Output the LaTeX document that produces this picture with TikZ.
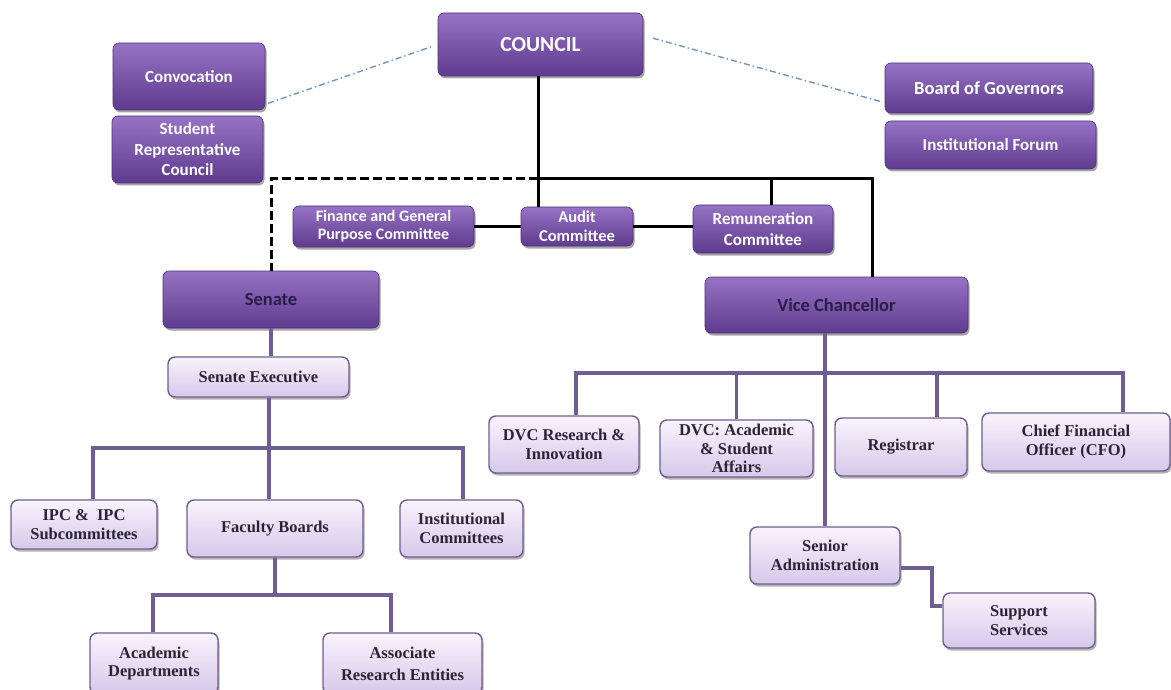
\documentclass[tikz,border=0pt]{standalone}
\usepackage{fontspec}
\usetikzlibrary{shadows,calc}
\newfontfamily\sansf{Carlito}
\newfontfamily\serf{Liberation Serif}
\definecolor{topT}{HTML}{9673C4}
\definecolor{topM}{HTML}{7A53AE}
\definecolor{topB}{HTML}{5E3B8E}
\definecolor{lowT}{HTML}{F8F4FC}
\definecolor{lowB}{HTML}{D6C8EA}
\definecolor{lowD}{HTML}{6F5E8F}
\definecolor{lowTxt}{HTML}{2A2535}
\definecolor{darkTxt}{HTML}{2A1D47}
\definecolor{plLine}{HTML}{6E5E92}
\definecolor{ddLine}{HTML}{7096C0}
\newcommand\bx[7]{\node[#6, minimum width={#4-#2}, minimum height={#5-#3}] (#1) at ({(#2+#4)/2},{(#3+#5)/2}) {#7};}
\tikzset{
  topbox/.style={rounded corners=6pt, top color=topT, middle color=topM, bottom color=topB,
    draw=topB!85!black, line width=0.6pt, text=white, align=center, inner sep=0pt,
    font=\sansf\bfseries\fontsize{17}{20.5}\selectfont,
    drop shadow={shadow xshift=1.5pt, shadow yshift=-2.5pt, fill=black, opacity=0.35}},
  lowbox/.style={rounded corners=7pt, top color=lowT, bottom color=lowB,
    draw=lowD, line width=1.4pt, text=lowTxt, align=center, inner sep=0pt,
    font=\serf\bfseries\fontsize{16.5}{18.5}\selectfont,
    drop shadow={shadow xshift=1.5pt, shadow yshift=-2.5pt, fill=black, opacity=0.3}},
  blk/.style={draw=black, line width=3pt},
  blkdash/.style={draw=black, line width=3pt, dash pattern=on 9pt off 4pt},
  pl/.style={draw=plLine, line width=3.5pt},
  dd/.style={draw=ddLine, line width=1.4pt, dash pattern=on 6pt off 3pt on 1.5pt off 3pt},
}
\begin{document}
\begin{tikzpicture}[x=1pt,y=-1pt]
\fill[white, use as bounding box] (0,0) rectangle (1171,690);
% top level boxes
\bx{council}{438}{13}{643}{76}{topbox, font=\sansf\bfseries\fontsize{21.5}{24}\selectfont}{COUNCIL}
\bx{conv}{113}{43}{265}{110}{topbox}{Convocation}
\bx{src}{112}{116}{263}{183}{topbox}{Student\\Representative\\Council}
\bx{bog}{885}{63}{1093}{113}{topbox, font=\sansf\bfseries\fontsize{18.5}{21}\selectfont}{Board of Governors}
\bx{ifo}{885}{121}{1096}{169}{topbox}{Institutional Forum}
\bx{fin}{293}{206}{474}{247}{topbox, font=\sansf\bfseries\fontsize{16}{18}\selectfont}{Finance and General\\Purpose Committee}
\bx{audit}{521}{207}{633}{246}{topbox, font=\sansf\bfseries\fontsize{16.5}{18.5}\selectfont}{Audit\\Committee}
\bx{remun}{693}{205}{833}{253}{topbox}{Remuneration\\Committee}
\bx{senate}{163}{271}{379}{328}{topbox, text=darkTxt, font=\sansf\bfseries\fontsize{18.5}{21}\selectfont}{Senate}
\bx{vc}{705}{277}{968}{333}{topbox, text=darkTxt, font=\sansf\bfseries\fontsize{18.5}{21}\selectfont}{Vice Chancellor}
% lower boxes
\bx{senexec}{168}{357}{349}{397}{lowbox}{Senate Executive}
\bx{ipc}{11}{500}{157}{549}{lowbox}{IPC \&\ \ IPC\\Subcommittees}
\bx{fb}{187}{500}{363}{557}{lowbox}{Faculty Boards}
\bx{ic}{400}{500}{523}{557}{lowbox}{Institutional\\Committees}
\bx{acad}{90}{633}{218}{694}{lowbox}{Academic\\Departments}
\bx{are}{323}{633}{482}{694}{lowbox, font=\serf\bfseries\fontsize{16.5}{22}\selectfont}{Associate\\Research Entities}
\bx{dvcri}{489}{416}{639}{473}{lowbox}{DVC Research \&\\Innovation}
\bx{dvcacad}{660}{420}{813}{477}{lowbox}{DVC: Academic\\\& Student\\Affairs}
\bx{reg}{835}{418}{967}{476}{lowbox}{Registrar}
\bx{cfo}{982}{413}{1170}{471}{lowbox}{Chief Financial\\Officer (CFO)}
\bx{sa}{750}{527}{900}{584}{lowbox}{Senior\\Administration}
\bx{ss}{943}{593}{1095}{648}{lowbox}{Support\\Services}
% dash-dot links
\draw[dd, shorten <=3pt, shorten >=6pt] (conv.-20) -- (council.west);
\draw[dd, shorten <=10pt, shorten >=2pt] (council.5) -- (bog.188);
% black council structure
\coordinate (j1) at (538,179);
\coordinate (j2) at (771,179);
\coordinate (j3) at (872,179);
\draw[blk] (council.south -| j1) -- (audit.north -| j1);
\draw[blkdash] (j1) -- (senate.north |- j1) -- (senate.north);
\draw[blk, line join=miter] (j1) -- (j3) -- (j3 |- vc.north);
\draw[blk] (j2) -- (j2 |- remun.north);
\draw[blk] (fin.east) -- (audit.west);
\draw[blk] (audit.east) -- (remun.west |- audit.east);
% senate tree
\coordinate (h1) at (269,448);
\coordinate (l1) at (93,448);
\coordinate (r1) at (463,448);
\draw[pl] (senate.south) -- (senate.south |- senexec.north);
\draw[pl] (senexec.south -| h1) -- (h1 |- fb.north);
\draw[pl, line join=miter] (l1 |- ipc.north) -- (l1) -- (r1) -- (r1 |- ic.north);
\coordinate (l2) at (153,595);
\coordinate (r2) at (391,595);
\draw[pl] (fb.south) -- (fb.south |- l2);
\draw[pl, line join=miter] (l2 |- acad.north) -- (l2) -- (r2) -- (r2 |- are.north);
% vice chancellor tree
\coordinate (l3) at (576,373);
\coordinate (m3) at (937,373);
\coordinate (r3) at (1123,373);
\draw[pl] (sa.north) -- (sa.north |- vc.south);
\draw[pl, line join=miter] (l3 |- dvcri.north) -- (l3) -- (r3) -- (r3 |- cfo.north);
\draw[pl] (dvcacad.north) -- (dvcacad.north |- l3);
\draw[pl] (m3) -- (m3 |- reg.north);
\coordinate (k1) at (932,568);
\coordinate (k2) at (932,606);
\draw[pl, line join=miter] (sa.east |- k1) -- (k1) -- (k2) -- (ss.west |- k2);
\end{tikzpicture}
\end{document}
